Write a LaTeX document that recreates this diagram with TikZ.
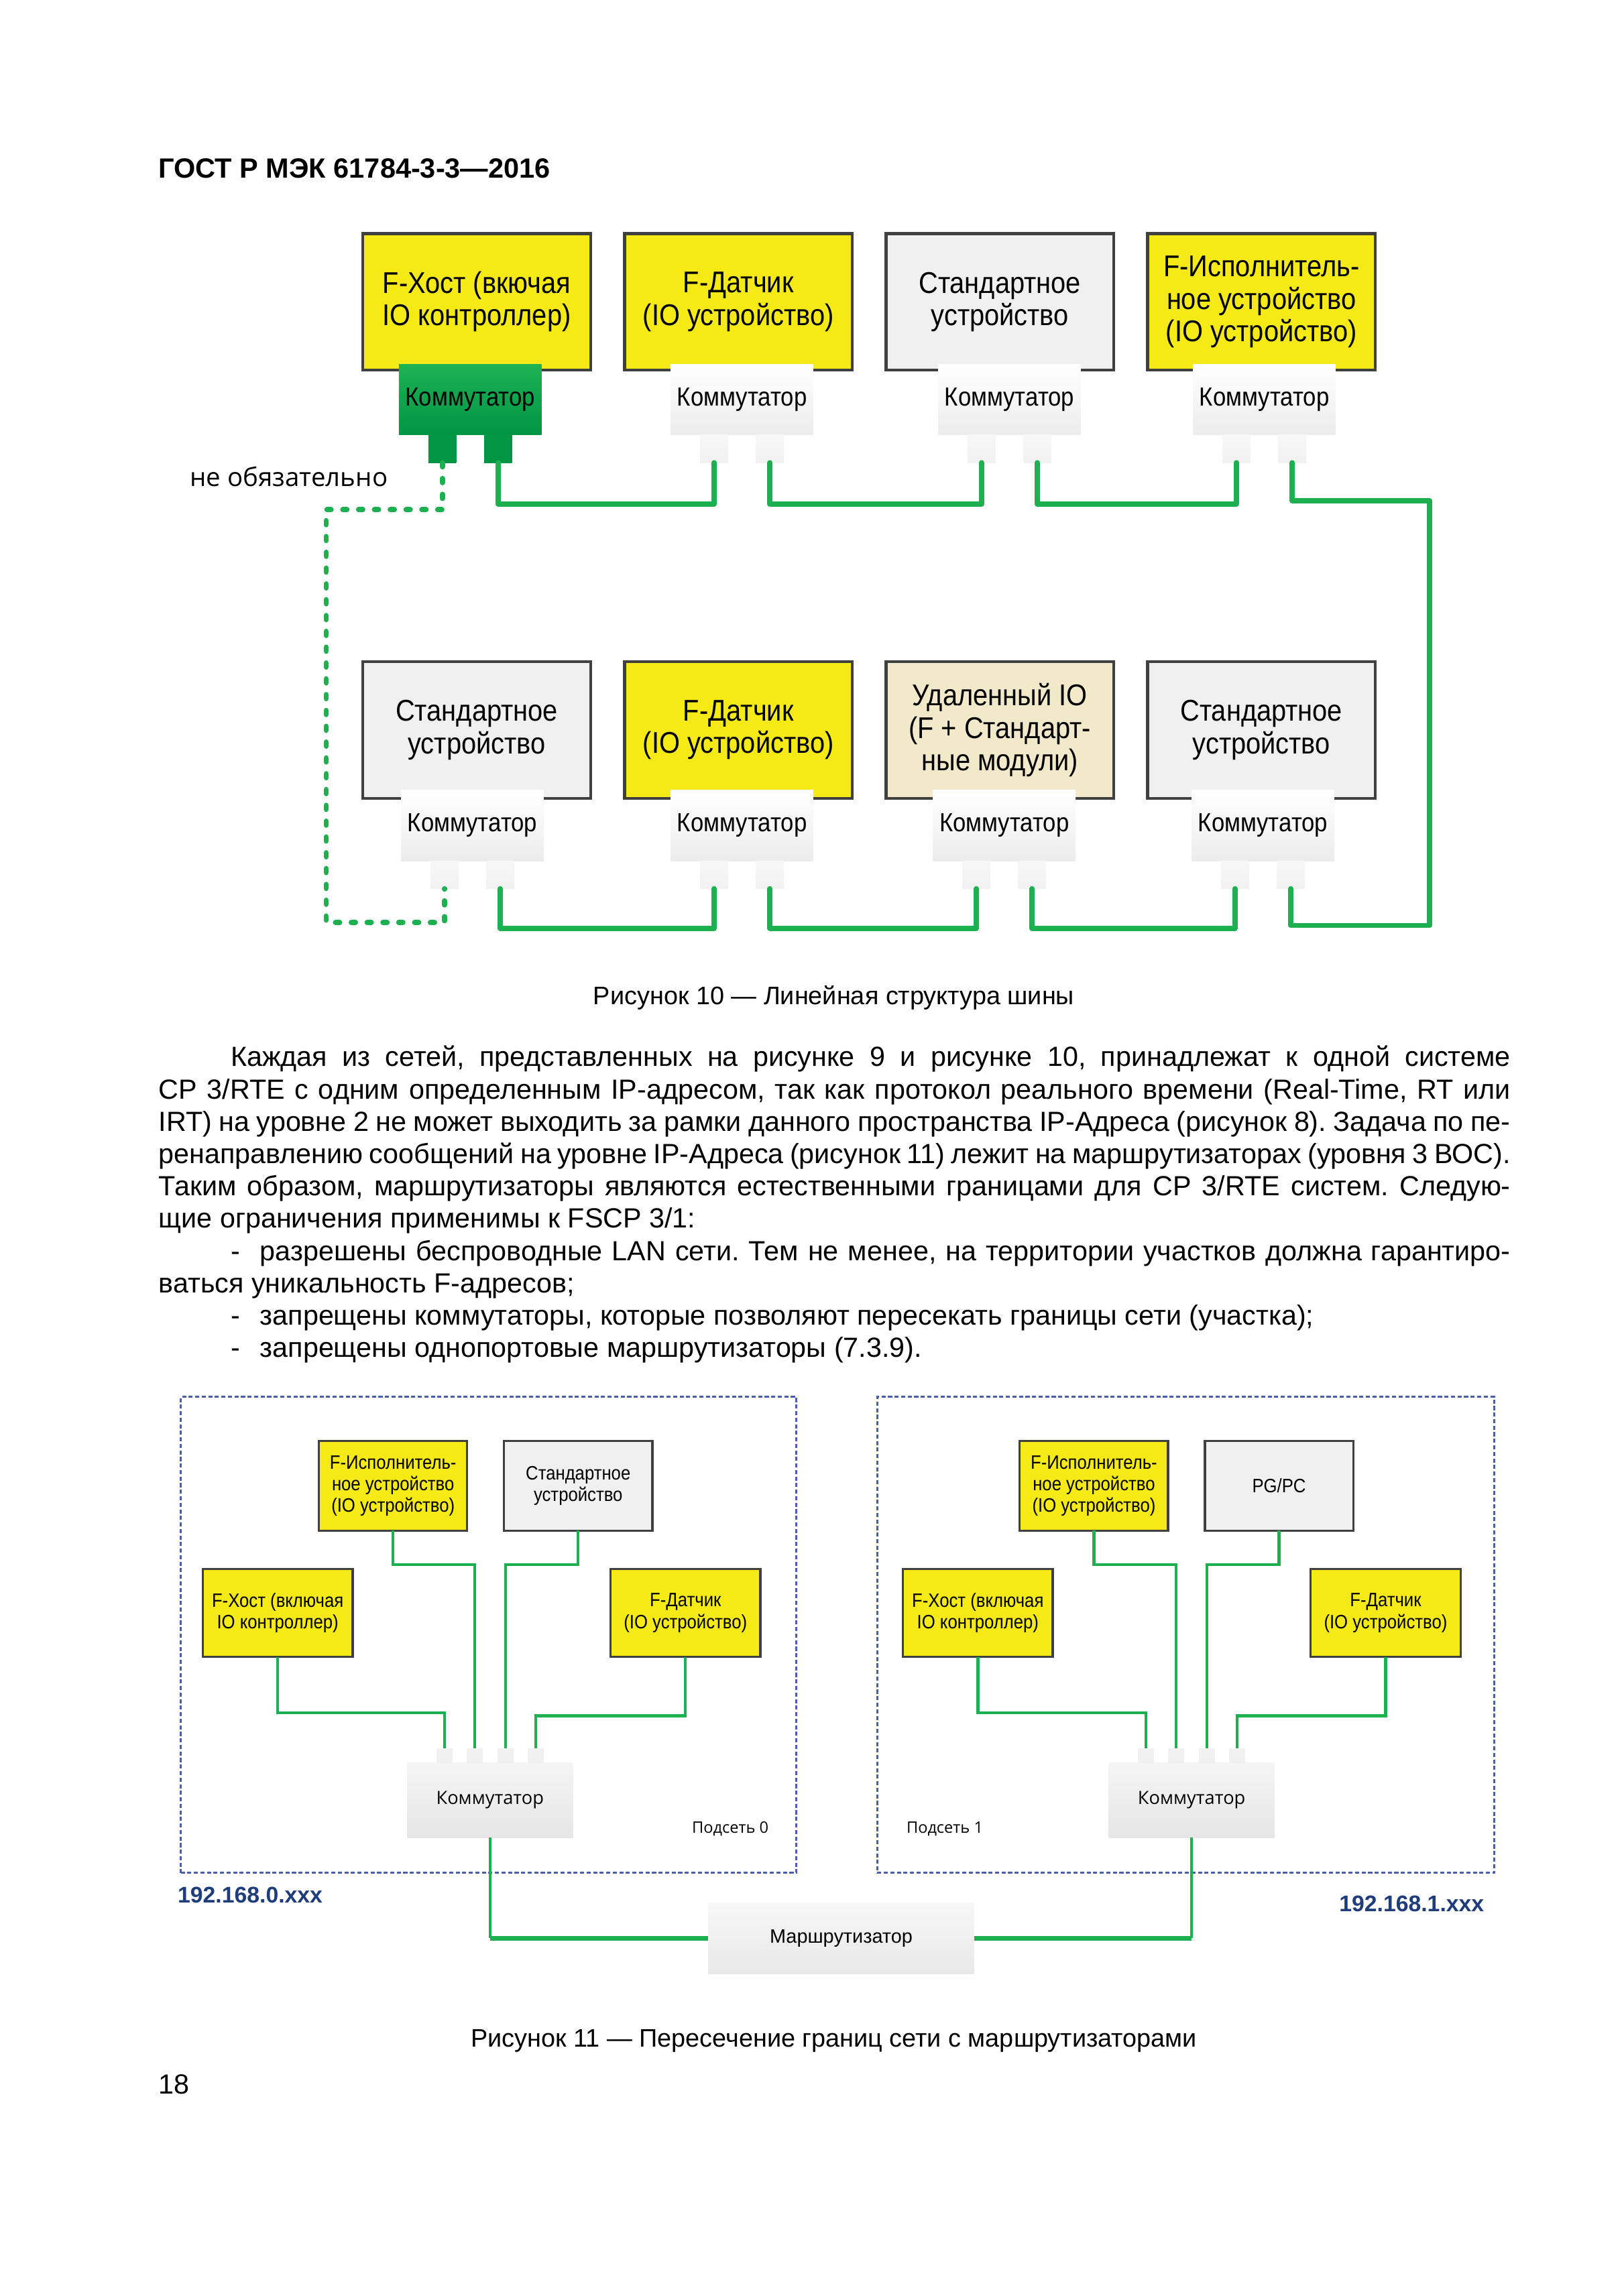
\documentclass[tikz,border=0pt]{standalone}
\usepackage{fontspec}
\setmainfont{Liberation Sans}
\newfontfamily\condfont[FakeStretch=0.89]{Liberation Sans}
\newfontfamily\osfont{Open Sans}
\usetikzlibrary{calc}
\definecolor{boxyellow}{RGB}{245,234,22}
\definecolor{boxgray}{RGB}{240,240,240}
\definecolor{boxbeige}{RGB}{242,232,202}
\definecolor{boxedge}{RGB}{64,64,64}
\definecolor{netgreen}{RGB}{29,176,80}
\definecolor{swgreenT}{RGB}{30,178,84}
\definecolor{swgreenB}{RGB}{0,150,68}
\definecolor{swwhiteB}{RGB}{236,236,236}
\definecolor{subnetblue}{RGB}{75,94,170}
\definecolor{ipblue}{RGB}{31,61,122}
\def\uu{0.53872pt}
\frenchspacing
\begin{document}
\begin{tikzpicture}[x=0.53872pt,y=-0.53872pt,
  dev/.style={draw=boxedge, line width=1.1pt, inner sep=0pt, outer sep=0pt,
    minimum width=155*\uu, minimum height=93*\uu, align=center,
    font=\condfont\fontsize{11pt}{11.85pt}\selectfont},
  yel/.style={dev, fill=boxyellow},
  gry/.style={dev, fill=boxgray},
  bei/.style={dev, fill=boxbeige},
  wsw/.style={inner sep=0pt, outer sep=0pt, minimum width=97*\uu, minimum height=48*\uu,
    top color=white, bottom color=swwhiteB, font=\condfont\fontsize{9.6pt}{10pt}\selectfont},
  gsw/.style={wsw, top color=swgreenT, bottom color=swgreenB},
  wport/.style={inner sep=0pt, outer sep=0pt, minimum width=19*\uu, minimum height=19*\uu,
    top color=gray!6, bottom color=gray!11},
  gport/.style={wport, top color=swgreenB, bottom color=swgreenB},
  link/.style={draw=netgreen, line width=3.6*\uu, line cap=round, line join=round},
  dotlink/.style={link, dash pattern=on 1.5pt off 4.3pt},
  txt/.style={inner sep=0pt, outer sep=0pt, anchor=base west, font=\frenchspacing\fontsize{10.15pt}{11.85pt}\selectfont},
  captext/.style={inner sep=0pt, outer sep=0pt, anchor=base, font=\fontsize{9.3pt}{11pt}\selectfont},
  sdev/.style={draw=boxedge, line width=0.8pt, inner sep=0pt, outer sep=0pt,
    minimum width=101*\uu, minimum height=61*\uu, align=center,
    font=\condfont\fontsize{7.1pt}{7.9pt}\selectfont},
  syel/.style={sdev, fill=boxyellow},
  sgry/.style={sdev, fill=boxgray},
  ssw/.style={inner sep=0pt, outer sep=0pt, minimum width=113*\uu, minimum height=51*\uu,
    top color=gray!8, bottom color=gray!20, font=\osfont\fontsize{6.7pt}{7pt}\selectfont},
  sport/.style={inner sep=0pt, outer sep=0pt, minimum width=11*\uu, minimum height=10*\uu,
    fill=gray!12},
  slink/.style={draw=netgreen, line width=2*\uu},
  rlink/.style={draw=netgreen, line width=3*\uu},
  subnet/.style={draw=subnetblue, line width=0.75pt, dash pattern=on 1.5pt off 0.9pt,
    inner sep=0pt, outer sep=0pt},
  small/.style={inner sep=0pt, outer sep=0pt, font=\osfont\fontsize{5.8pt}{7pt}\selectfont},
  ip/.style={inner sep=0pt, outer sep=0pt, text=ipblue, font=\bfseries\fontsize{8.3pt}{10pt}\selectfont}
]
\fill[white] (0,0) rectangle (1105,1563);
\useasboundingbox (0,0) rectangle (1105,1563);

% header
\node[txt, font=\bfseries\fontsize{10.2pt}{12pt}\selectfont] (hdr) at (108,121) {ГОСТ Р МЭК 61784-3-3—2016};

% ---------- Figure 10 ----------
\node[yel] (T1) at (324.5,205.5) {F-Хост (вкючая\\IO контроллер)};
\node[yel] (T2) at (502.5,205.5) {F-Датчик\\(IO устройство)};
\node[gry] (T3) at (680.5,205.5) {Стандартное\\устройство};
\node[yel] (T4) at (858.5,205.5) {F-Исполнитель-\\ное устройство\\(IO устройство)};

\node[gsw] (ST1) at (320,272) {Коммутатор};
\node[gport] (t1a) at (301,305.5) {};
\node[gport] (t1b) at (339,305.5) {};
\node[wsw] (ST2) at (505,272) {Коммутатор};
\node[wport] (t2a) at (486,305.5) {};
\node[wport] (t2b) at (524,305.5) {};
\node[wsw] (ST3) at (687,272) {Коммутатор};
\node[wport] (t3a) at (668,305.5) {};
\node[wport] (t3b) at (706,305.5) {};
\node[wsw] (ST4) at (860.5,272) {Коммутатор};
\node[wport] (t4a) at (841.5,305.5) {};
\node[wport] (t4b) at (879.5,305.5) {};

\node[gry] (B1) at (324.5,497) {Стандартное\\устройство};
\node[yel] (B2) at (502.5,497) {F-Датчик\\(IO устройство)};
\node[bei] (B3) at (680.5,497) {Удаленный IO\\(F + Стандарт-\\ные модули)};
\node[gry] (B4) at (858.5,497) {Стандартное\\устройство};

\node[wsw] (SB1) at (321.5,562) {Коммутатор};
\node[wport] (b1a) at (302.5,595.5) {};
\node[wport] (b1b) at (340.5,595.5) {};
\node[wsw] (SB2) at (505,562) {Коммутатор};
\node[wport] (b2a) at (486,595.5) {};
\node[wport] (b2b) at (524,595.5) {};
\node[wsw] (SB3) at (683.5,562) {Коммутатор};
\node[wport] (b3a) at (664.5,595.5) {};
\node[wport] (b3b) at (702.5,595.5) {};
\node[wsw] (SB4) at (859.5,562) {Коммутатор};
\node[wport] (b4a) at (840.5,595.5) {};
\node[wport] (b4b) at (878.5,595.5) {};

\coordinate (busT) at (0,343);
\coordinate (busB) at (0,632);
\coordinate (railT) at (973,341);
\coordinate (railB) at (973,630);
\coordinate (dl1) at (222,347);
\coordinate (dl2) at (222,628);

\draw[link] (t1b.south) |- (t2a.south |- busT) -- (t2a.south);
\draw[link] (t2b.south) |- (t3a.south |- busT) -- (t3a.south);
\draw[link] (t3b.south) |- (t4a.south |- busT) -- (t4a.south);
\draw[link] (t4b.south) |- (railT) -- (railB) -| (b4b.south);
\draw[link] (b1b.south) |- (b2a.south |- busB) -- (b2a.south);
\draw[link] (b2b.south) |- (b3a.south |- busB) -- (b3a.south);
\draw[link] (b3b.south) |- (b4a.south |- busB) -- (b4a.south);
\draw[dotlink] (t1a.south) |- (dl1) -- (dl2) -| (b1a.south);

\node[inner sep=0pt, anchor=base west, font=\osfont\fontsize{9.45pt}{11pt}\selectfont] (opt) at (129,331) {не обязательно};

\node[captext] (cap10) at (567.5,684) {Рисунок 10 — Линейная структура шины};

% ---------- body text ----------
\node[txt] (l1) at (157,726) {\makebox[469.22pt][s]{Каждая из сетей, представленных на рисунке 9 и рисунке 10, принадлежат к одной системе}};
\node[txt] (l2) at (108,748) {\makebox[495.62pt][s]{CP 3/RTE с одним определенным IP-адресом, так как протокол реального времени (Real-Time, RT или}};
\node[txt] (l3) at (108,770) {\makebox[495.62pt][s]{IRT) на уровне 2 не может выходить за рамки данного пространства IP-Адреса (рисунок 8). Задача по пе-}};
\node[txt] (l4) at (108,792) {\makebox[495.62pt][s]{ренаправлению сообщений на уровне IP-Адреса (рисунок 11) лежит на маршрутизаторах (уровня 3 ВОС).}};
\node[txt] (l5) at (108,814) {\makebox[495.62pt][s]{Таким образом, маршрутизаторы являются естественными границами для CP 3/RTE систем. Следую-}};
\node[txt] (l6) at (108,836) {щие ограничения применимы к FSCP 3/1:};
\node[txt] (l7) at (157,858) {\makebox[10.77pt][l]{-}\makebox[458.45pt][s]{разрешены беспроводные LAN сети. Тем не менее, на территории участков должна гарантиро-}};
\node[txt] (l8) at (108,880) {ваться уникальность F-адресов;};
\node[txt] (l9) at (157,902) {\makebox[10.77pt][l]{-}запрещены коммутаторы, которые позволяют пересекать границы сети (участка);};
\node[txt] (l10) at (157,924) {\makebox[10.77pt][l]{-}запрещены однопортовые маршрутизаторы (7.3.9).};

% ---------- Figure 11 ----------
\node[subnet, minimum width=419*\uu, minimum height=324*\uu] (net0) at (332.5,1113) {};
\node[subnet, minimum width=420*\uu, minimum height=324*\uu] (net1) at (807,1113) {};

\node[syel] (A1) at (267.5,1011.5) {F-Исполнитель-\\ное устройство\\(IO устройство)};
\node[sgry] (S1) at (393.5,1011.5) {Стандартное\\устройство};
\node[syel, minimum width=102*\uu, minimum height=60*\uu] (H1) at (189,1098) {F-Хост (включая\\IO контроллер)};
\node[syel, minimum width=102*\uu, minimum height=60*\uu] (D1) at (466.5,1098) {F-Датчик\\(IO устройство)};
\node[ssw] (SW1) at (333.5,1225.5) {Коммутатор};
\node[sport] (s1a) at (302.5,1195) {};
\node[sport] (s1b) at (323,1195) {};
\node[sport] (s1c) at (344,1195) {};
\node[sport] (s1d) at (364.5,1195) {};

\node[syel] (A2) at (744.5,1011.5) {F-Исполнитель-\\ное устройство\\(IO устройство)};
\node[sgry] (P2) at (870.5,1011.5) {PG/PC};
\node[syel, minimum width=102*\uu, minimum height=60*\uu] (H2) at (665.5,1098) {F-Хост (включая\\IO контроллер)};
\node[syel, minimum width=102*\uu, minimum height=60*\uu] (D2) at (943,1098) {F-Датчик\\(IO устройство)};
\node[ssw] (SW2) at (811,1225.5) {Коммутатор};
\node[sport] (s2a) at (780,1195) {};
\node[sport] (s2b) at (800.5,1195) {};
\node[sport] (s2c) at (821.5,1195) {};
\node[sport] (s2d) at (842,1195) {};

\node[inner sep=0pt, outer sep=0pt, minimum width=181*\uu, minimum height=48*\uu,
  top color=gray!6, bottom color=gray!18, font=\fontsize{7.1pt}{8pt}\selectfont] (R) at (572.5,1319.5) {Маршрутизатор};

\coordinate (hA) at (0,1065);
\coordinate (hH) at (0,1166);
\coordinate (hD) at (0,1168);

\draw[slink] (H1.south) |- (s1a.north |- hH) -- (s1a.north);
\draw[slink] (A1.south) |- (s1b.north |- hA) -- (s1b.north);
\draw[slink] (S1.south) |- (s1c.north |- hA) -- (s1c.north);
\draw[slink] (D1.south) |- (s1d.north |- hD) -- (s1d.north);
\draw[slink] (H2.south) |- (s2a.north |- hH) -- (s2a.north);
\draw[slink] (A2.south) |- (s2b.north |- hA) -- (s2b.north);
\draw[slink] (P2.south) |- (s2c.north |- hA) -- (s2c.north);
\draw[slink] (D2.south) |- (s2d.north |- hD) -- (s2d.north);
\draw[slink] (SW1.south) -- (SW1.south |- R.west);
\draw[rlink] (SW1.south |- R.west) -- (R.west);
\draw[slink] (SW2.south) -- (SW2.south |- R.east);
\draw[rlink] (R.east) -- (SW2.south |- R.east);

\node[small, anchor=west] (sub0) at (471,1245) {Подсеть 0};
\node[small, anchor=west] (sub1) at (617,1245) {Подсеть 1};
\node[ip, anchor=west] (ip0) at (121,1290) {192.168.0.xxx};
\node[ip, anchor=east] (ip1) at (1010,1296) {192.168.1.xxx};

\node[captext] (cap11) at (567.5,1393.5) {Рисунок 11 — Пересечение границ сети с маршрутизаторами};
\node[txt] (pg) at (108,1425.5) {18};
\end{tikzpicture}
\end{document}
